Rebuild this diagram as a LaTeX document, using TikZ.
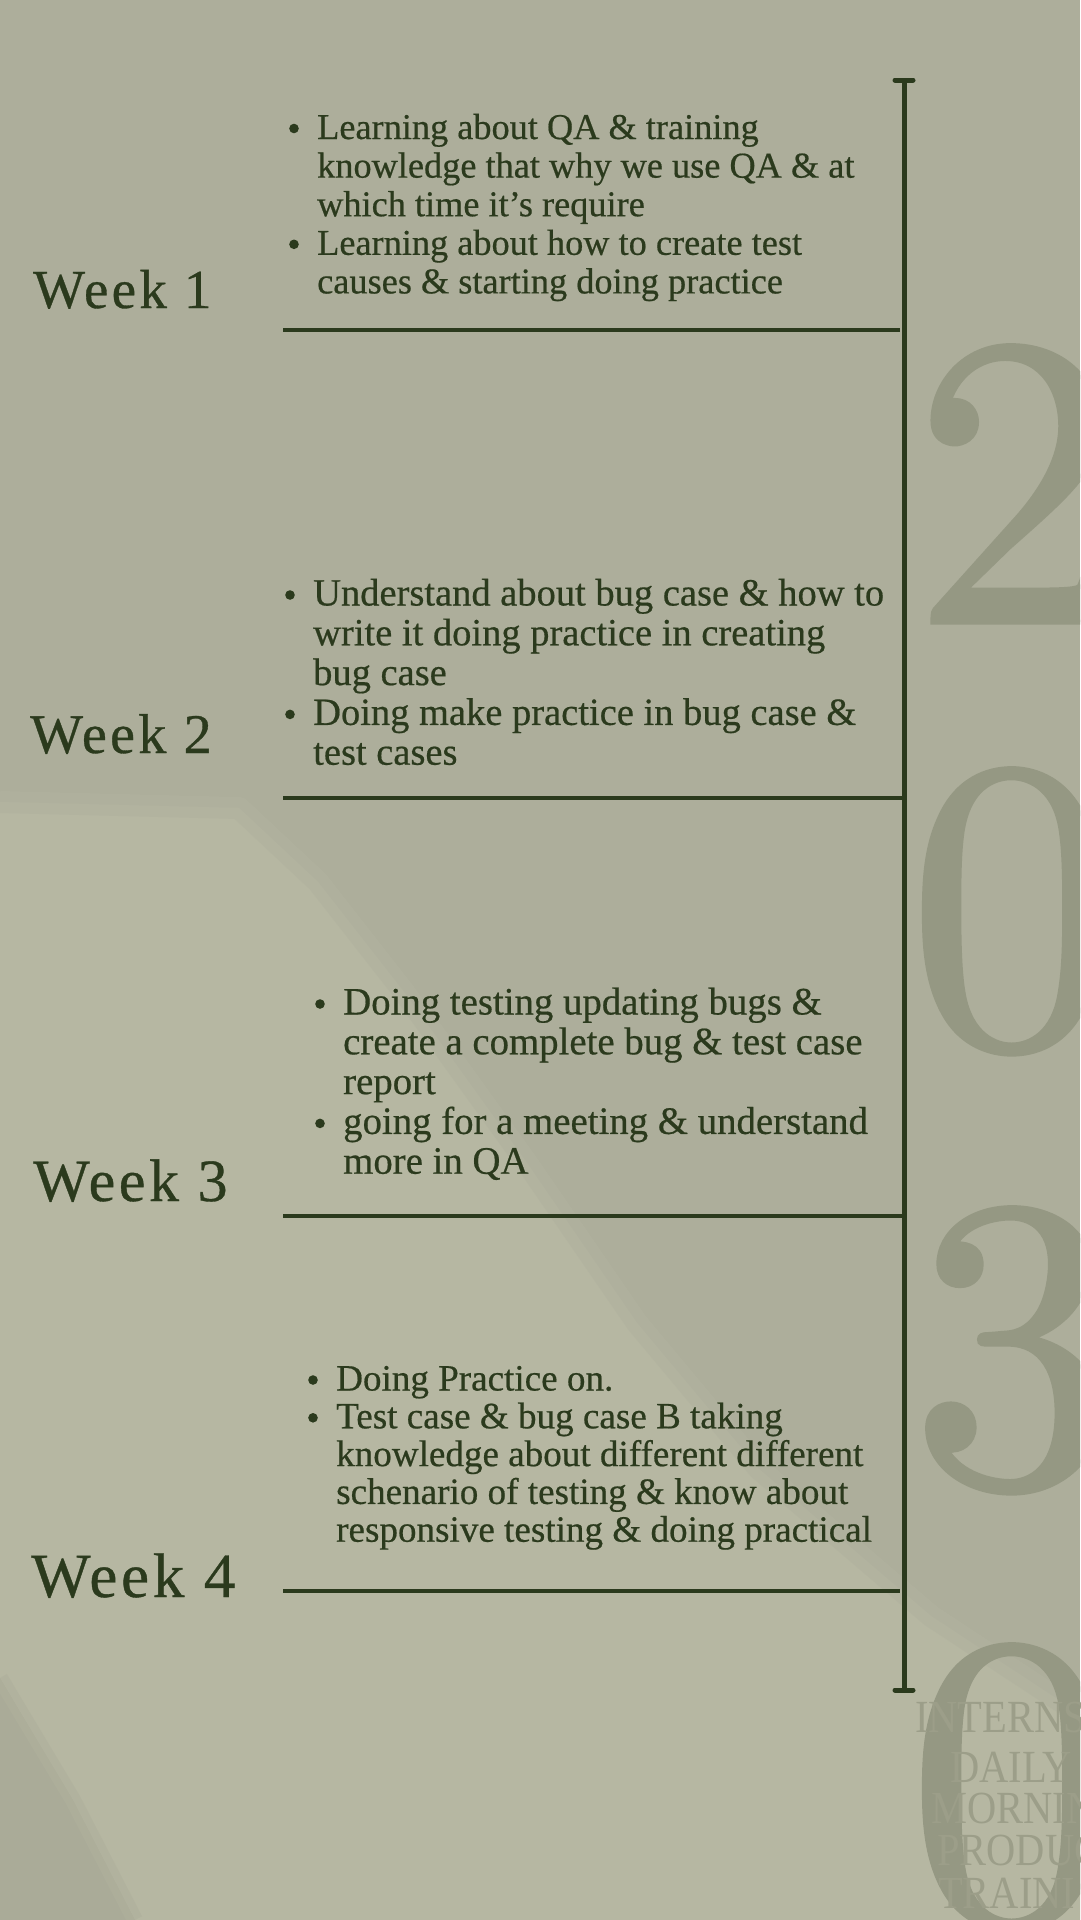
\documentclass[tikz,border=0pt]{standalone}
\usepackage{fontspec}
\setmainfont{Liberation Serif}[FakeBold=0.5]
\newfontfamily\digitfont{lmroman10-regular}[Extension=.otf,FakeBold=1.2]
\newfontfamily\weekfont{Liberation Serif}[LetterSpace=6,FakeBold=0.6]
\newfontfamily\faintfont{Liberation Serif}[FakeStretch=0.88]
\definecolor{bgbase}{HTML}{ADAE9B}
\definecolor{bglight}{HTML}{B6B7A2}
\definecolor{bgdark}{HTML}{A8AA96}
\definecolor{digitcol}{HTML}{959883}
\definecolor{faintcol}{HTML}{9C9E89}
\definecolor{ink}{HTML}{2B3A1D}
\newcommand\bul{\makebox[29.5pt][l]{}}
\tikzset{
  rule/.style={draw=ink, line width=4.6pt},
  spine/.style={draw=ink, line width=5pt},
  capline/.style={draw=ink, line width=5pt, line cap=round},
  dot/.style={fill=ink},
  weeklabel/.style={anchor=base west, inner sep=0pt, text=ink},
  block/.style={anchor=base west, inner sep=0pt, text=ink, align=left},
  bigdigit/.style={anchor=base west, inner sep=0pt, text=digitcol, font=\digitfont\fontsize{415}{415}\selectfont},
  faint/.style={anchor=base west, inner sep=0pt, text=faintcol, font=\faintfont\fontsize{46}{46}\selectfont}
}
\begin{document}
\begin{tikzpicture}[x=1pt,y=-1pt]
\useasboundingbox (0,0) rectangle (1080,1920);
\clip (0,0) rectangle (1080,1920);
% background
\fill[bgbase] (0,0) rectangle (1080,1920);
\fill[bglight] (0,802) -- (239,808) -- (318,882) -- (404,992) -- (527,1163) -- (637,1323) -- (759,1469) -- (931,1616) -- (1080,1714) -- (1080,1920) -- (135,1920) -- (73,1800) -- (0,1678) -- cycle;
\draw[bglight!50!bgbase, line width=22pt, opacity=0.7, line join=round] (0,802) -- (239,808) -- (318,882) -- (404,992) -- (527,1163) -- (637,1323) -- (759,1469) -- (931,1616) -- (1080,1714);
\fill[bgdark, opacity=0.6] (0,1678) -- (73,1800) -- (135,1920) -- (0,1920) -- cycle;
\draw[bgdark!50!bglight, line width=16pt, opacity=0.6] (0,1678) -- (73,1800) -- (135,1920);
% big year digits
\node[bigdigit] (d1) at (912,622) {2};
\node[bigdigit] (d2) at (908,1045) {0};
\node[bigdigit] (d3) at (910,1484) {3};
\node[bigdigit] (d4) at (908,1921) {0};
% faint words
\node[faint] (f1) at (915,1732) {INTERNS};
\node[faint] (f2) at (950,1782) {DAILY I};
\node[faint] (f3) at (931,1823) {MORNIN};
\node[faint] (f4) at (937,1865) {PRODUC};
\node[faint] (f5) at (938,1908) {TRAINI};
% spine
\coordinate (top) at (904,80);
\coordinate (bot) at (904,1690);
\draw[spine] (top) -- (bot);
\coordinate (tl) at (895,80); \coordinate (tr) at (913,80);
\coordinate (bl) at (895,1690); \coordinate (br) at (913,1690);
\draw[capline] (tl) -- (tr);
\draw[capline] (bl) -- (br);
% horizontal rules
\coordinate (r1a) at (283,330); \coordinate (r1b) at (900,330);
\coordinate (r2a) at (283,798); \coordinate (r2b) at (904,798);
\coordinate (r3a) at (283,1216); \coordinate (r3b) at (904,1216);
\coordinate (r4a) at (283,1591); \coordinate (r4b) at (900,1591);
\draw[rule] (r1a) -- (r1b);
\draw[rule] (r2a) -- (r2b);
\draw[rule] (r3a) -- (r3b);
\draw[rule] (r4a) -- (r4b);
% week labels
\node[weeklabel, font=\weekfont\fontsize{55}{55}\selectfont] (w1) at (33,308) {Week 1};
\node[weeklabel, font=\weekfont\fontsize{56}{56}\selectfont] (w2) at (30,753) {Week 2};
\node[weeklabel, font=\weekfont\fontsize{60}{60}\selectfont] (w3) at (33,1201) {Week 3};
\node[weeklabel, font=\weekfont\fontsize{63}{63}\selectfont] (w4) at (31,1597) {Week 4};
% bullets
\fill[dot] (294,128.5) circle (4.8pt);
\fill[dot] (294,244.3) circle (4.8pt);
\fill[dot] (290,595) circle (4.8pt);
\fill[dot] (290,714.4) circle (4.8pt);
\fill[dot] (320,1004) circle (4.8pt);
\fill[dot] (320,1123.4) circle (4.8pt);
\fill[dot] (313,1380) circle (4.8pt);
\fill[dot] (313,1417.8) circle (4.8pt);
% blocks
\node[block, font=\fontsize{36.3}{38.6}\selectfont] (b1) at (287.5,139) {%
\begin{tabular}[t]{@{}l@{}l@{}}
\bul & Learning about QA \& training\\
 & knowledge that why we use QA \& at\\
 & which time it's require\\
\bul & Learning about how to create test\\
 & causes \& starting doing practice
\end{tabular}};
\node[block, font=\fontsize{38.5}{39.8}\selectfont] (b2) at (283.5,605.5) {%
\begin{tabular}[t]{@{}l@{}l@{}}
\bul & Understand about bug case \& how to\\
 & write it doing practice in creating\\
 & bug case\\
\bul & Doing make practice in bug case \&\\
 & test cases
\end{tabular}};
\node[block, font=\fontsize{38.8}{39.8}\selectfont] (b3) at (313.5,1014.5) {%
\begin{tabular}[t]{@{}l@{}l@{}}
\bul & Doing testing updating bugs \&\\
 & create a complete bug \& test case\\
 & report\\
\bul & going for a meeting \& understand\\
 & more in QA
\end{tabular}};
\node[block, font=\fontsize{37.1}{37.8}\selectfont] (b4) at (306.5,1390.5) {%
\begin{tabular}[t]{@{}l@{}l@{}}
\bul & Doing Practice on.\\
\bul & Test case \& bug case B taking\\
 & knowledge about different different\\
 & schenario of testing \& know about\\
 & responsive testing \& doing practical
\end{tabular}};
\end{tikzpicture}
\end{document}
